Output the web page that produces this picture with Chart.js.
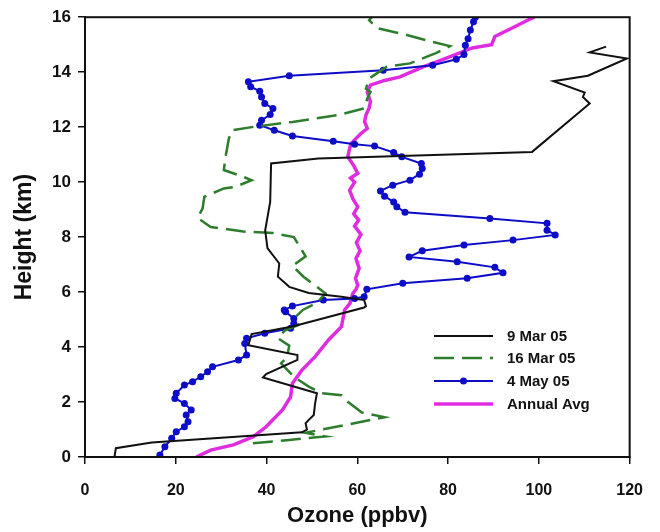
<!DOCTYPE html>
<html>
<head>
<meta charset="utf-8">
<title>Ozone profiles</title>
<script src="https://cdn.jsdelivr.net/npm/chart.js@4.4.1/dist/chart.umd.min.js"></script>
<style>
  html, body { margin: 0; padding: 0; background: #fff; }
  #wrap { width: 660px; height: 532px; }
</style>
</head>
<body>
<div id="wrap"><canvas id="ozoneChart" width="660" height="532"></canvas></div>
<script>
// axis ticks
const ozoneTicks = [0, 20, 40, 60, 80, 100, 120];
const heightTicks = [0, 2, 4, 6, 8, 10, 12, 14, 16];

// 9 Mar 05 sonde
const mar9Ozone = [6.5, 6.8, 14.7, 47.8, 48.9, 48.6, 49.3, 50.4, 50.7, 51.1, 39.2, 39.9, 46.8, 46.8, 36.0, 36.7, 45.7, 61.5, 61.9, 61.5, 56.5, 49.3, 45.0, 42.5, 42.8, 40.2, 39.7, 40.8, 41.0, 51.4, 98.5, 111.2, 109.7, 110.1, 103.2, 110.8, 119.4, 111.2, 114.8];
const mar9Height = [0, 0.32, 0.53, 0.9, 1.0, 1.23, 1.35, 1.53, 1.95, 2.32, 2.89, 3.02, 3.53, 3.71, 4.07, 4.47, 4.75, 5.44, 5.49, 5.71, 5.83, 5.97, 6.19, 6.56, 7.04, 7.6, 8.25, 9.28, 10.68, 10.86, 11.1, 12.86, 13.1, 13.26, 13.67, 13.87, 14.5, 14.72, 14.93];

// 16 Mar 05 sonde
const mar16Ozone = [37, 45, 53, 48.5, 57, 66, 61, 57.6, 56.5, 52.2, 49.3, 46, 45, 43.2, 44.5, 45, 42.5, 44, 47, 46.4, 48, 51, 53, 52.2, 48.2, 45.7, 48.6, 46, 41.4, 34.9, 27.7, 24.8, 25.9, 26.3, 30.6, 33.1, 36.7, 34.9, 30.6, 30.9, 31.7, 32.4, 37.1, 45.7, 55.8, 61.5, 62.2, 62.9, 61.9, 62.6, 66.5, 71.6, 77.3, 80.4, 76.6, 70.9, 64.4, 62.6, 63.2];
const mar16Height = [0.5, 0.62, 0.75, 0.88, 1.15, 1.45, 1.62, 2.05, 2.25, 2.32, 2.56, 2.92, 3.1, 3.41, 3.62, 4.05, 4.32, 4.6, 4.8, 5.1, 5.35, 5.6, 5.95, 6.05, 6.55, 6.95, 7.3, 8.0, 8.15, 8.2, 8.37, 8.7, 9.04, 9.47, 9.77, 9.83, 10.07, 10.19, 10.44, 10.86, 11.59, 11.89, 12.01, 12.19, 12.44, 12.68, 13.04, 13.28, 13.4, 13.77, 14.2, 14.32, 14.69, 14.95, 15.1, 15.35, 15.6, 15.89, 16.0];

// 4 May 05 sonde
const may4Ozone = [16.5, 17.6, 19.1, 20.1, 21.9, 22.7, 22.3, 23.4, 21.9, 19.8, 20.1, 21.9, 23.7, 25.5, 27.0, 28.1, 33.8, 35.6, 35.2, 35.6, 39.6, 45.3, 46.0, 46.0, 44.2, 43.9, 45.7, 52.5, 59.4, 61.5, 62.1, 70.0, 84.2, 92.1, 90.3, 82.0, 71.4, 74.3, 83.5, 94.3, 103.6, 101.8, 101.8, 89.2, 70.5, 68.7, 68.0, 66.0, 65.1, 67.8, 71.6, 73.7, 74.3, 74.1, 69.8, 68.0, 63.8, 59.4, 54.7, 45.7, 41.7, 38.5, 38.9, 40.8, 41.4, 39.6, 38.9, 38.5, 36.5, 36.0, 45.0, 65.7, 76.6, 81.8, 83.5, 83.8, 84.4, 84.9, 85.6, 86.0];
const may4Height = [0.07, 0.37, 0.68, 0.92, 1.1, 1.28, 1.53, 1.71, 1.95, 2.13, 2.32, 2.62, 2.74, 2.92, 3.1, 3.28, 3.53, 3.71, 4.13, 4.32, 4.5, 4.68, 4.86, 5.04, 5.28, 5.35, 5.49, 5.71, 5.77, 5.83, 6.1, 6.32, 6.5, 6.7, 6.9, 7.1, 7.28, 7.5, 7.71, 7.89, 8.08, 8.25, 8.5, 8.68, 8.9, 9.1, 9.28, 9.49, 9.68, 9.89, 10.07, 10.29, 10.5, 10.68, 10.92, 11.08, 11.31, 11.38, 11.49, 11.68, 11.89, 12.07, 12.25, 12.46, 12.68, 12.86, 13.1, 13.31, 13.47, 13.65, 13.87, 14.07, 14.25, 14.47, 14.64, 14.98, 15.22, 15.53, 15.83, 16.0];

// annual average profile
const avgOzone = [24.5, 27.7, 32.7, 37.1, 39.9, 43.5, 45.3, 45.7, 47.8, 50.7, 53.6, 56.5, 57.2, 58.4, 59.0, 59.7, 60.1, 59.6, 60.4, 59.7, 60.6, 59.8, 60.8, 59.4, 60.3, 59.2, 60.1, 59.0, 58.3, 59.4, 58.5, 60.1, 59.2, 57.9, 58.2, 58.6, 60.8, 62.2, 61.6, 61.9, 62.6, 62.9, 62.2, 62.9, 66.0, 69.4, 74.5, 79.5, 85.3, 89.6, 90.3, 93.9, 97.5, 99.0];
const avgHeight = [0, 0.25, 0.44, 0.74, 1.1, 1.71, 2.19, 2.68, 3.16, 3.65, 4.25, 4.74, 5.35, 5.6, 5.95, 6.1, 6.25, 6.5, 6.86, 7.22, 7.5, 7.8, 8.1, 8.4, 8.62, 8.85, 9.1, 9.4, 9.71, 10.0, 10.15, 10.32, 10.6, 10.92, 11.15, 11.4, 11.77, 11.95, 12.2, 12.44, 12.7, 12.92, 13.28, 13.53, 13.7, 13.83, 14.19, 14.5, 14.88, 15.0, 15.3, 15.59, 15.89, 16.0];

const toPoints = (xs, ys) => xs.map((x, i) => ({ x: x, y: ys[i] }));

const FONT = "'Liberation Sans', Arial, sans-serif";
const INK = '#111';

// legend drawn inside the plot, lower right
const insideLegend = {
  id: 'insideLegend',
  afterDatasetsDraw(chart) {
    const ctx = chart.ctx;
    const x0 = 434, x1 = 493, tx = 507;
    const rows = [336, 358, 381, 404];
    ctx.save();
    ctx.font = 'bold 15px ' + FONT;
    ctx.textBaseline = 'middle';
    ctx.fillStyle = INK;
    chart.data.datasets.forEach((ds, i) => {
      const y = rows[i];
      ctx.strokeStyle = ds.borderColor;
      ctx.lineWidth = ds.borderWidth;
      ctx.setLineDash(ds.borderDash || []);
      ctx.beginPath();
      ctx.moveTo(x0, y);
      ctx.lineTo(x1, y);
      ctx.stroke();
      ctx.setLineDash([]);
      if (ds.pointRadius > 0) {
        ctx.fillStyle = ds.pointBackgroundColor;
        ctx.beginPath();
        ctx.arc((x0 + x1) / 2, y, ds.pointRadius, 0, Math.PI * 2);
        ctx.fill();
      }
      ctx.fillStyle = INK;
      ctx.fillText(ds.label, tx, y + 1);
    });
    ctx.restore();
  }
};

// box round the plot area
const plotFrame = {
  id: 'plotFrame',
  afterDraw(chart) {
    const a = chart.chartArea;
    const ctx = chart.ctx;
    ctx.save();
    ctx.strokeStyle = INK;
    ctx.lineWidth = 2;
    ctx.strokeRect(a.left, a.top, a.right - a.left, a.bottom - a.top);
    ctx.restore();
  }
};

new Chart(document.getElementById('ozoneChart'), {
  type: 'scatter',
  data: {
    datasets: [
      {
        label: '9 Mar 05',
        data: toPoints(mar9Ozone, mar9Height),
        showLine: true,
        borderColor: '#111',
        borderWidth: 2,
        pointRadius: 0
      },
      {
        label: '16 Mar 05',
        data: toPoints(mar16Ozone, mar16Height),
        showLine: true,
        borderColor: '#2d7d2d',
        borderWidth: 2.5,
        borderDash: [20, 8],
        pointRadius: 0
      },
      {
        label: '4 May 05',
        data: toPoints(may4Ozone, may4Height),
        showLine: true,
        borderColor: '#0d0dc8',
        borderWidth: 2,
        pointRadius: 3.5,
        pointBackgroundColor: '#0d0dc8',
        pointBorderWidth: 0
      },
      {
        label: 'Annual Avg',
        data: toPoints(avgOzone, avgHeight),
        showLine: true,
        borderColor: '#e02ce0',
        borderWidth: 3.5,
        pointRadius: 0
      }
    ]
  },
  options: {
    responsive: false,
    animation: false,
    layout: { padding: { left: 0, top: 17, right: 19, bottom: 0 } },
    plugins: { legend: { display: false }, tooltip: { enabled: false } },
    scales: {
      x: {
        type: 'linear',
        min: 0,
        max: 120,
        afterBuildTicks: s => { s.ticks = ozoneTicks.map(v => ({ value: v })); },
        afterFit: s => { s.height = 75; },
        grid: { drawOnChartArea: false, drawTicks: true, tickLength: 7, color: INK, lineWidth: 1.5 },
        border: { display: true, color: INK, width: 2 },
        ticks: { color: INK, padding: 17, font: { family: FONT, size: 16, weight: 'bold' } },
        title: {
          display: true,
          text: 'Ozone (ppbv)',
          color: INK,
          padding: { top: 0, bottom: 3 },
          font: { family: FONT, size: 22, weight: 'bold' }
        }
      },
      y: {
        type: 'linear',
        min: 0,
        max: 16,
        afterBuildTicks: s => { s.ticks = heightTicks.map(v => ({ value: v })); },
        afterFit: s => { s.width = 85; },
        grid: { drawOnChartArea: false, drawTicks: true, tickLength: 7, color: INK, lineWidth: 1.5 },
        border: { display: true, color: INK, width: 2 },
        ticks: { color: INK, padding: 7, font: { family: FONT, size: 17, weight: 'bold' } },
        title: {
          display: true,
          text: 'Height (km)',
          color: INK,
          padding: { top: 11, bottom: 0 },
          font: { family: FONT, size: 23, weight: 'bold' }
        }
      }
    }
  },
  plugins: [insideLegend, plotFrame]
});
</script>
</body>
</html>
